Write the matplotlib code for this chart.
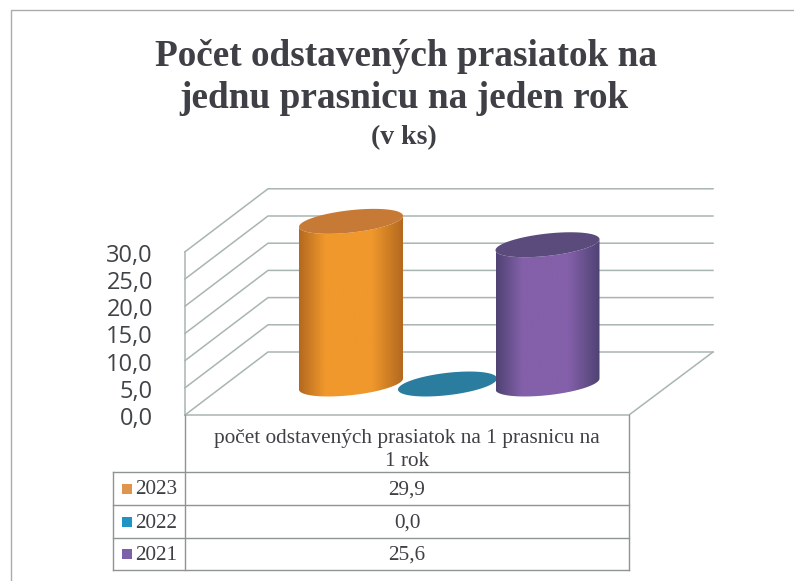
import numpy as np
import matplotlib
matplotlib.use("Agg")
import matplotlib.pyplot as plt
from matplotlib.colors import LinearSegmentedColormap
from matplotlib.patches import Polygon

years = ["2023", "2022", "2021"]
values = [29.9, 0.0, 25.6]
value_labels = ["29,9", "0,0", "25,6"]
ticks = [0, 5, 10, 15, 20, 25, 30]
tick_labels = ["0,0", "5,0", "10,0", "15,0", "20,0", "25,0", "30,0"]
category = "počet odstavených prasiatok na 1 prasnicu na\n1 rok"
swatches = ["#e0954f", "#1f93c4", "#7b62a8"]
# edge, middle, top colours of each cylinder
edge_cols = ["#b4691f", "#1f7495", "#4f4374"]
mid_cols = ["#f0982c", "#2a85a8", "#8360a9"]
top_cols = ["#c67a35", "#2a7d9f", "#5a4b7c"]

GRID = "#a9b5b1"
TEXT = "#3e4045"

# layout in pixels of the 794x581 picture
FRONT_X, BACK_X, RIGHT_FRONT, RIGHT_BACK = 185, 268, 629, 713
FRONT_Y, BACK_Y = 415, 352
PX_PER_UNIT = 27.2 / 5
BAR_CX = [351, 447.5, 547.5]
BAR_RX = [52, 49.5, 52]
BAR_BASE_Y = 384
TILT, RY = 5.5, 11.2


def ellipse_path(cx, cy, rx):
    t = np.linspace(0, 2 * np.pi, 120)
    return np.column_stack([cx + rx * np.cos(t), cy - TILT * np.cos(t) + RY * np.sin(t)])


def draw_cylinder(ax, cx, rx, value, edge, mid, top, z):
    top_y = BAR_BASE_Y - value * PX_PER_UNIT
    if value > 0:
        t = np.linspace(np.pi, 0, 60)
        lower = np.column_stack([cx + rx * np.cos(t), BAR_BASE_Y - TILT * np.cos(t) + RY * np.sin(t)])
        t = np.linspace(0, np.pi, 60)
        upper = np.column_stack([cx + rx * np.cos(t), top_y - TILT * np.cos(t) + RY * np.sin(t)])
        body = Polygon(np.vstack([lower, upper]), closed=True, facecolor="none", edgecolor="none")
        ax.add_patch(body)
        cmap = LinearSegmentedColormap.from_list(
            "c", [(0, edge), (0.25, mid), (0.7, mid), (1, edge)], N=128)
        grad = np.linspace(0, 1, 128).reshape(1, -1)
        im = ax.imshow(grad, cmap=cmap, aspect="auto", zorder=z,
                       extent=(cx - rx, cx + rx, BAR_BASE_Y + 20, top_y - 20))
        im.set_clip_path(body)
    ax.fill(*ellipse_path(cx, top_y, rx).T, color=top, lw=0, zorder=z + 0.5)


fig = plt.figure(figsize=(7.94, 5.81), dpi=100)
ax = fig.add_axes([0, 0, 1, 1])

# scan frame
ax.plot([10.5, 10.5, 794], [581, 10.3, 10.3], color="#ababab", lw=1.0)

# walls and floor
for i, tick in enumerate(ticks):
    off = tick * PX_PER_UNIT
    ax.plot([FRONT_X, BACK_X, RIGHT_BACK], [FRONT_Y - off, BACK_Y - off, BACK_Y - off],
            color=GRID, lw=1.1, zorder=1)
    ax.text(153, FRONT_Y - off + 4, tick_labels[i], ha="right", va="center",
            fontsize=17, family="Open Sans", color="#404448")
ax.plot([FRONT_X, FRONT_X], [FRONT_Y, FRONT_Y - ticks[-1] * PX_PER_UNIT], color=GRID, lw=1.1, zorder=1)
ax.plot([FRONT_X, RIGHT_FRONT, RIGHT_BACK], [FRONT_Y, FRONT_Y, BACK_Y], color=GRID, lw=1.1, zorder=1)

for i, (cx, rx, v, e, m, t) in enumerate(zip(BAR_CX, BAR_RX, values, edge_cols, mid_cols, top_cols)):
    draw_cylinder(ax, cx, rx, v, e, m, t, 3 + i)

# titles
serif = "Liberation Serif"
ax.text(406, 56, "Počet odstavených prasiatok na", ha="center", va="center",
        fontsize=26.8, fontweight="bold", family=serif, color=TEXT)
ax.text(404, 98, "jednu prasnicu na jeden rok", ha="center", va="center",
        fontsize=26.8, fontweight="bold", family=serif, color=TEXT)
ax.text(404, 138, "(v ks)", ha="center", va="center",
        fontsize=20, fontweight="bold", family=serif, color=TEXT)

# data table
T_LEFT, T_DIV, T_RIGHT = 113, 185, 629
row_y = [472, 505, 538, 570]
TABLE = "#8e9492"
ax.plot([T_DIV, T_DIV], [FRONT_Y, row_y[-1]], color=TABLE, lw=1.0)
ax.plot([T_RIGHT, T_RIGHT], [FRONT_Y, row_y[-1]], color=TABLE, lw=1.0)
ax.plot([T_LEFT, T_LEFT], [row_y[0], row_y[-1]], color=TABLE, lw=1.0)
for y in row_y:
    ax.plot([T_LEFT, T_RIGHT], [y, y], color=TABLE, lw=1.0)
ax.text(407, 450, category, ha="center", va="center", fontsize=15.3,
        family=serif, color=TEXT, linespacing=1.29)
for i, year in enumerate(years):
    mid = (row_y[i] + row_y[i + 1]) / 2
    ax.scatter([126.8], [mid], marker="s", s=60, color=swatches[i], lw=0)
    ax.text(135.5, mid + 1.5, year, ha="left", va="center", fontsize=15.3, family=serif, color=TEXT)
    ax.text(407, mid + 1.5, value_labels[i], ha="center", va="center",
            fontsize=15.3, family=serif, color=TEXT)

ax.set_xlim(0, 794)
ax.set_ylim(581, 0)
ax.axis("off")
fig.savefig("out.png", dpi=100)
